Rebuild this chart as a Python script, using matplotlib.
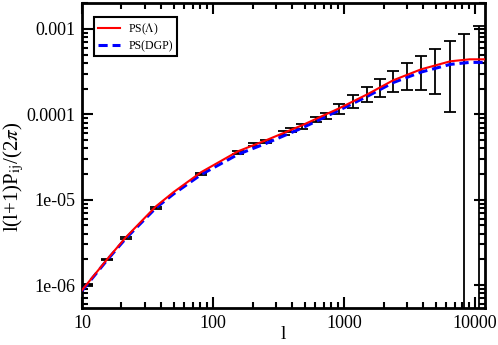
import numpy as np
import matplotlib
matplotlib.use("Agg")
import matplotlib.pyplot as plt
from matplotlib.ticker import FixedLocator, FixedFormatter, LogLocator, NullFormatter

plt.rcParams["font.family"] = ["Liberation Serif", "DejaVu Serif"]
plt.rcParams["mathtext.fontset"] = "stix"

# measured band powers with 1-sigma errors
l_data = [11, 15.5, 21.7, 36.7, 81, 155, 206, 254, 348, 393, 478, 611, 729, 916,
          1170, 1500, 1880, 2370, 3020, 3870, 4950, 6460, 8240, 10700]
ps_data = [1.0e-6, 2.0e-6, 3.6e-6, 8.0e-6, 2.02e-5, 3.6e-5, 4.45e-5, 4.8e-5, 6.0e-5, 6.5e-5,
           7.2e-5, 8.7e-5, 9.7e-5, 1.17e-4, 1.42e-4, 1.725e-4, 2.07e-4, 2.5e-4, 2.93e-4,
           3.34e-4, 3.73e-4, 4.1e-4, 4.2e-4, 4.25e-4]
ps_err = [2e-8, 4e-8, 9e-8, 2.5e-7, 6e-7, 1.3e-6, 1.8e-6, 2.2e-6, 3.0e-6, 3.6e-6, 4.3e-6,
          6e-6, 7.8e-6, 1.5e-5, 2.5e-5, 3.45e-5, 4.9e-5, 6.85e-5, 1.0e-4, 1.43e-4, 2.02e-4,
          3.05e-4, 4.43e-4, 6.45e-4]

# model curves
l_model = [10, 15.5, 21.6, 36.7, 50, 81, 155, 254, 478, 916, 1500, 2370, 3870, 6460, 9100, 11900]
ps_lcdm = [8.75e-7, 2.0e-6, 3.64e-6, 8.39e-6, 1.23e-5, 2.10e-5, 3.69e-5, 4.97e-5, 7.44e-5,
           1.175e-4, 1.71e-4, 2.50e-4, 3.36e-4, 4.17e-4, 4.40e-4, 4.40e-4]
ps_dgp = [8.6e-7, 1.96e-6, 3.53e-6, 8.05e-6, 1.17e-5, 1.97e-5, 3.40e-5, 4.57e-5, 6.92e-5,
          1.116e-4, 1.62e-4, 2.35e-4, 3.12e-4, 3.84e-4, 4.05e-4, 4.05e-4]

fig = plt.figure(figsize=(4.98, 3.45), dpi=100)
ax = fig.add_axes([0.1647, 0.107, 0.8093, 0.884])

ax.errorbar(l_data, ps_data, yerr=ps_err, fmt="none", ecolor="black", elinewidth=1.3,
            capsize=4.5, capthick=1.3, zorder=2)
ax.plot(l_model, ps_lcdm, color="red", lw=1.5, label=r"PS($\Lambda$)", zorder=4)
ax.plot(l_model, ps_dgp, color="blue", lw=2.2, ls=(0, (3, 1.6)), label="PS(DGP)", zorder=3)

ax.set_xscale("log")
ax.set_yscale("log")
ax.set_xlim(10, 11900)
ax.set_ylim(5.4e-7, 2.0e-3)

ax.xaxis.set_major_locator(FixedLocator([10, 100, 1000, 10000]))
ax.xaxis.set_major_formatter(FixedFormatter(["10", "100", "1000", "10000"]))
ax.yaxis.set_major_locator(FixedLocator([1e-6, 1e-5, 1e-4, 1e-3]))
ax.yaxis.set_major_formatter(FixedFormatter(["1e-06", "1e-05", "0.0001", "0.001"]))
ax.xaxis.set_minor_locator(LogLocator(base=10, subs=np.arange(2, 10)))
ax.yaxis.set_minor_locator(LogLocator(base=10, subs=np.arange(2, 10)))
ax.xaxis.set_minor_formatter(NullFormatter())
ax.yaxis.set_minor_formatter(NullFormatter())

ax.tick_params(which="both", direction="in", top=True, right=True, width=1.5, labelsize=13)
ax.tick_params(which="major", length=8, pad=5)
ax.tick_params(which="minor", length=4)
for s in ax.spines.values():
    s.set_linewidth(2)

ax.set_xlabel("l", fontsize=14)
ax.xaxis.set_label_coords(0.5, -0.058)
ax.set_ylabel(r"l(l+1)P$_{\rm ij}$/(2$\pi$)", fontsize=15)
ax.yaxis.set_label_coords(-0.14, 0.43)

leg = ax.legend(loc="upper left", bbox_to_anchor=(0.02, 0.965), fontsize=8.5, fancybox=False,
                framealpha=1, edgecolor="black", handlelength=1.9, borderpad=0.35,
                labelspacing=0.25, handletextpad=0.7, borderaxespad=0.3)
leg.get_frame().set_linewidth(1.5)

fig.savefig("out.png", dpi=100)
